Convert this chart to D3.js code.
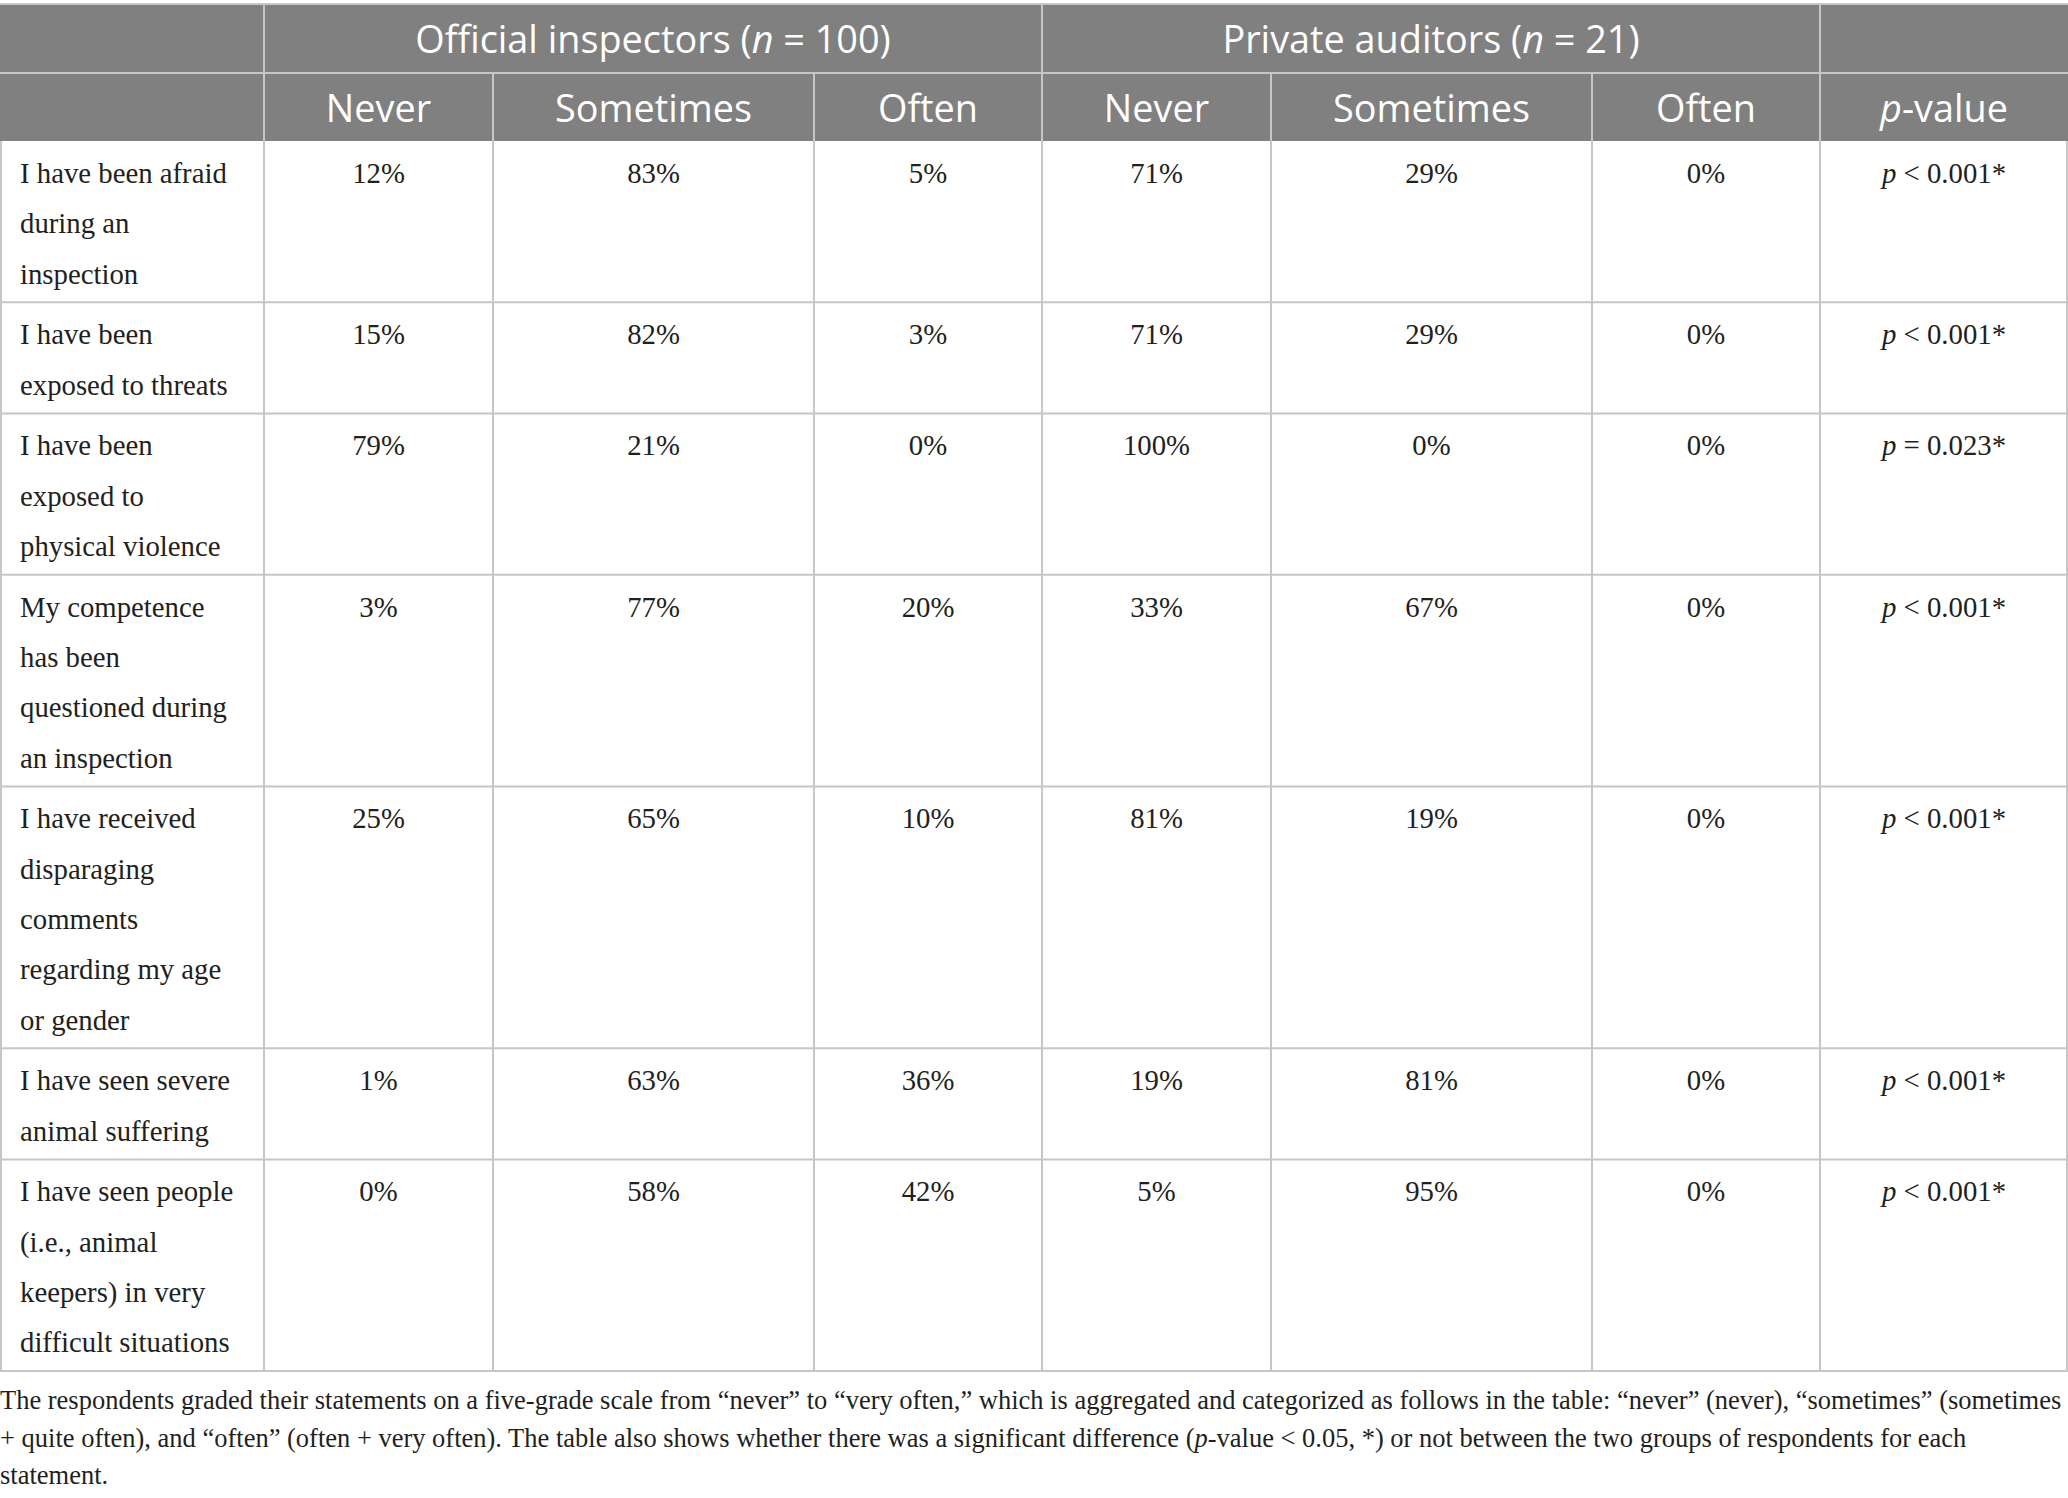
<!DOCTYPE html>
<html>
<head>
<meta charset="utf-8">
<script src="https://cdn.jsdelivr.net/npm/d3@7"></script>
<style>
  body { margin: 0; background: #fff; }
  svg { display: block; }
</style>
</head>
<body>
<div id="chart"></div>
<script>

// table content
const statements = [
    ["I have been afraid", "during an", "inspection"],
    ["I have been", "exposed to threats"],
    ["I have been", "exposed to", "physical violence"],
    ["My competence", "has been", "questioned during", "an inspection"],
    ["I have received", "disparaging", "comments", "regarding my age", "or gender"],
    ["I have seen severe", "animal suffering"],
    ["I have seen people", "(i.e., animal", "keepers) in very", "difficult situations"]
];

const groups = ["Official inspectors", "Private auditors"];
const groupN = [100, 21];
const answers = ["Never", "Sometimes", "Often"];

const officialNever = [12, 15, 79, 3, 25, 1, 0];
const officialSometimes = [83, 82, 21, 77, 65, 63, 58];
const officialOften = [5, 3, 0, 20, 10, 36, 42];
const privateNever = [71, 71, 100, 33, 81, 19, 5];
const privateSometimes = [29, 29, 0, 67, 19, 81, 95];
const privateOften = [0, 0, 0, 0, 0, 0, 0];
const pSigns = ["<", "<", "=", "<", "<", "<", "<"];
const pValues = ["0.001", "0.001", "0.023", "0.001", "0.001", "0.001", "0.001"];

const footnote = [
    [["The respondents graded their statements on a five-grade scale from \u201cnever\u201d to \u201cvery often,\u201d which is aggregated and categorized as follows in the table: \u201cnever\u201d (never), \u201csometimes\u201d (sometimes", false]],
    [["+ quite often), and \u201coften\u201d (often + very often). The table also shows whether there was a significant difference (", false], ["p", true], ["-value < 0.05, *) or not between the two groups of respondents for each", false]],
    [["statement.", false]]
];

const W = 2068, H = 1498;
const headFont = "'Open Sans', 'Noto Sans', sans-serif";
const bodyFont = "'Liberation Serif', 'DejaVu Serif', serif";
const headBg = "#808080";
const gridCol = "#c6c6c6";
const textCol = "#231f20";

const svg = d3.select("#chart").append("svg")
    .attr("width", W)
    .attr("height", H);

// measure helper to pick font sizes
function fitSize(str, family, target) {
    let t = svg.append("text")
        .attr("font-family", family)
        .attr("font-size", 100)
        .text(str);
    let len = t.node().getComputedTextLength();
    t.remove();
    return 100 * target / len;
}

const headSize = fitSize("Official inspectors (n = 100)", headFont, 477);
const bodySize = fitSize("I have been afraid", bodyFont, 207);
const noteSize = fitSize(footnote[0][0][0], bodyFont, 2062);

// columns: statement, 3 official, 3 private, p-value
const colWeights = [264, 229, 321, 228, 229, 321, 228, 248];
const colEdges = [0].concat(Array.from(d3.cumsum(colWeights)));
const x = d3.scaleLinear().domain([0, d3.sum(colWeights)]).range([0, W]);

// rows: height from number of text lines
const lineH = 50.3, rowPad = 10.6;
const headTop = 4, headMid = 73, headBottom = 141, tableBottom = 1371;
const rowUnits = statements.map(s => s.length * lineH + rowPad);
const rowEdges = [0].concat(Array.from(d3.cumsum(rowUnits)));
const y = d3.scaleLinear().domain([0, d3.sum(rowUnits)]).range([headBottom, tableBottom]);

// ---- header ----
svg.append("rect")
    .attr("x", 0).attr("y", headTop)
    .attr("width", W).attr("height", headBottom - headTop)
    .attr("fill", headBg);

[headTop, headMid].forEach(yy => {
    svg.append("line")
        .attr("x1", 0).attr("x2", W)
        .attr("y1", yy).attr("y2", yy)
        .attr("stroke", gridCol).attr("stroke-width", 2);
});

// full height header separators
[1, 4, 7].forEach(i => {
    svg.append("line")
        .attr("x1", x(colEdges[i])).attr("x2", x(colEdges[i]))
        .attr("y1", headTop).attr("y2", headBottom)
        .attr("stroke", gridCol).attr("stroke-width", 2);
});
// second header row separators
[2, 3, 5, 6].forEach(i => {
    svg.append("line")
        .attr("x1", x(colEdges[i])).attr("x2", x(colEdges[i]))
        .attr("y1", headMid).attr("y2", headBottom)
        .attr("stroke", gridCol).attr("stroke-width", 2);
});

// group titles
groups.forEach((g, gi) => {
    let cx = (x(colEdges[1 + gi * 3]) + x(colEdges[4 + gi * 3])) / 2;
    let t = svg.append("text")
        .attr("x", cx).attr("y", 53)
        .attr("text-anchor", "middle")
        .attr("font-family", headFont)
        .attr("font-size", headSize)
        .attr("fill", "#fff");
    t.append("tspan").text(g + " (");
    t.append("tspan").attr("font-style", "italic").text("n");
    t.append("tspan").text(" = " + groupN[gi] + ")");
});

// answer titles
const subHeads = answers.concat(answers);
subHeads.forEach((a, i) => {
    svg.append("text")
        .attr("x", (x(colEdges[i + 1]) + x(colEdges[i + 2])) / 2)
        .attr("y", 122)
        .attr("text-anchor", "middle")
        .attr("font-family", headFont)
        .attr("font-size", headSize)
        .attr("fill", "#fff")
        .text(a);
});

let pHead = svg.append("text")
    .attr("x", (x(colEdges[7]) + x(colEdges[8])) / 2)
    .attr("y", 122)
    .attr("text-anchor", "middle")
    .attr("font-family", headFont)
    .attr("font-size", headSize)
    .attr("fill", "#fff");
pHead.append("tspan").attr("font-style", "italic").text("p");
pHead.append("tspan").text("-value");

// ---- body ----
const body = svg.append("g");

// horizontal rules
body.selectAll(".hrule")
    .data(rowEdges.slice(1))
    .join("line")
    .attr("class", "hrule")
    .attr("x1", 0).attr("x2", W)
    .attr("y1", d => y(d)).attr("y2", d => y(d))
    .attr("stroke", gridCol).attr("stroke-width", 2);

// vertical rules
body.selectAll(".vrule")
    .data(colEdges)
    .join("line")
    .attr("class", "vrule")
    .attr("x1", d => Math.min(Math.max(x(d), 1), W - 1))
    .attr("x2", d => Math.min(Math.max(x(d), 1), W - 1))
    .attr("y1", headBottom).attr("y2", tableBottom)
    .attr("stroke", gridCol).attr("stroke-width", 2);

// statements
statements.forEach((lines, ri) => {
    let top = y(rowEdges[ri]);
    lines.forEach((ln, li) => {
        body.append("text")
            .attr("x", 20)
            .attr("y", top + 42 + li * lineH)
            .attr("font-family", bodyFont)
            .attr("font-size", bodySize)
            .attr("fill", textCol)
            .text(ln);
    });
});

// numbers
const valueCols = [officialNever, officialSometimes, officialOften,
                   privateNever, privateSometimes, privateOften];
valueCols.forEach((col, ci) => {
    let cx = (x(colEdges[ci + 1]) + x(colEdges[ci + 2])) / 2;
    body.selectAll(".v" + ci)
        .data(col)
        .join("text")
        .attr("class", "v" + ci)
        .attr("x", cx)
        .attr("y", (d, i) => y(rowEdges[i]) + 42)
        .attr("text-anchor", "middle")
        .attr("font-family", bodyFont)
        .attr("font-size", bodySize)
        .attr("fill", textCol)
        .text(d => d + "%");
});

// p values
pValues.forEach((pv, i) => {
    let t = body.append("text")
        .attr("x", (x(colEdges[7]) + x(colEdges[8])) / 2)
        .attr("y", y(rowEdges[i]) + 42)
        .attr("text-anchor", "middle")
        .attr("font-family", bodyFont)
        .attr("font-size", bodySize)
        .attr("fill", textCol);
    t.append("tspan").attr("font-style", "italic").text("p");
    t.append("tspan").text(" " + pSigns[i] + " " + pv + "*");
});

// ---- footnote ----
footnote.forEach((parts, li) => {
    let t = svg.append("text")
        .attr("x", 0)
        .attr("y", 1409 + li * 37.5)
        .attr("font-family", bodyFont)
        .attr("font-size", noteSize)
        .attr("fill", textCol);
    parts.forEach(p => {
        t.append("tspan")
            .attr("font-style", p[1] ? "italic" : "normal")
            .text(p[0]);
    });
});

</script>
</body>
</html>
